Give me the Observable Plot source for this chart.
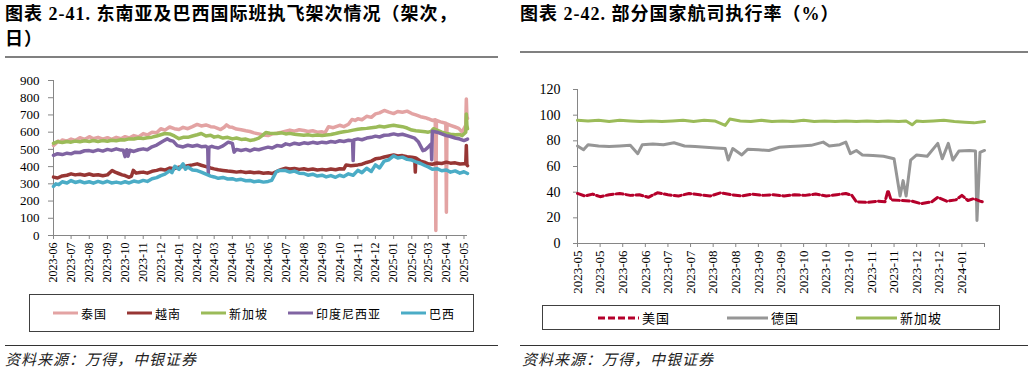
<!DOCTYPE html>
<html><head><meta charset="utf-8">
<script src="https://cdn.jsdelivr.net/npm/d3@7"></script>
<script src="https://cdn.jsdelivr.net/npm/@observablehq/plot@0.6"></script>
<style>
html,body{margin:0;padding:0;background:#fff;}
body{width:1033px;height:372px;position:relative;overflow:hidden;font-family:"Liberation Serif","Noto Sans CJK SC",serif;color:#000;}
.title{position:absolute;top:2px;font-size:18px;font-weight:700;line-height:25px;letter-spacing:1px;white-space:nowrap;}
.rule{position:absolute;background:#808080;}
.src{position:absolute;top:349px;font-size:15px;line-height:20px;font-style:italic;letter-spacing:1px;font-family:"Noto Sans CJK SC",sans-serif;color:#222;}
.chart{position:absolute;}
.legend{position:absolute;border:1px solid #404040;box-sizing:border-box;display:flex;align-items:center;font-family:"Noto Sans CJK SC",sans-serif;font-size:12px;letter-spacing:1px;}
.item{display:flex;align-items:center;}
.item svg{margin-right:3px;}
</style></head>
<body>
<div class="title" style="left:5px">图表 2-41. 东南亚及巴西国际班执飞架次情况（架次，<br>日）</div>
<div class="rule" style="left:5px;top:56px;width:493px;height:2px"></div>
<div class="title" style="left:520px">图表 2-42. 部分国家航司执行率（%）</div>
<div class="rule" style="left:520px;top:51px;width:508px;height:2px"></div>
<div id="c1" class="chart" style="left:0;top:60px"></div>
<div id="c2" class="chart" style="left:515px;top:70px"></div>
<div id="lg1" class="legend" style="left:29px;top:294px;width:445px;height:38px;padding-left:23px;gap:20px"></div>
<div id="lg2" class="legend" style="left:542px;top:305px;width:458px;height:25px;padding-left:55px;gap:57px;font-size:13px"></div>
<div class="rule" style="left:5px;top:345px;width:493px;height:1px;background:#333"></div>
<div class="rule" style="left:520px;top:345px;width:508px;height:1px;background:#333"></div>
<div class="src" style="left:5px">资料来源：万得，中银证券</div>
<div class="src" style="left:522px">资料来源：万得，中银证券</div>
<script>
// ---------- Left chart data (架次/日) ----------
const leftSeries = ["泰国","越南","新加坡","印度尼西亚","巴西"];
const leftColors = ["#E3A3A3","#973634","#9BBB59","#8064A2","#4BACC6"];
const leftYTicks = [0,100,200,300,400,500,600,700,800,900];
const leftTickLabels = ["2023-06","2023-07","2023-08","2023-09","2023-10","2023-11","2023-12","2024-01","2024-02","2024-03","2024-04","2024-05","2024-06","2024-07","2024-08","2024-09","2024-10","2024-11","2024-12","2025-01","2025-02","2025-03","2025-04","2025-05"];
const leftDomain = ["2023-06-01","2025-05-07"];

const thailand = [["2023-06-01",522],["2023-06-05",535],["2023-06-09",548],["2023-06-13",542],["2023-06-16",555],["2023-06-24",548],["2023-07-01",560],["2023-07-08",552],["2023-07-16",568],["2023-07-24",558],["2023-08-01",574],["2023-08-08",562],["2023-08-16",570],["2023-08-24",560],["2023-09-01",568],["2023-09-08",558],["2023-09-16",570],["2023-09-24",562],["2023-10-01",574],["2023-10-08",566],["2023-10-16",580],["2023-10-24",572],["2023-11-01",592],["2023-11-08",584],["2023-11-16",600],["2023-11-24",596],["2023-12-01",620],["2023-12-08",612],["2023-12-16",630],["2023-12-24",620],["2024-01-01",615],["2024-01-08",628],["2024-01-16",620],["2024-01-24",632],["2024-02-01",645],["2024-02-08",636],["2024-02-16",642],["2024-02-24",632],["2024-03-01",630],["2024-03-08",620],["2024-03-12",615],["2024-03-18",628],["2024-03-22",642],["2024-03-27",630],["2024-04-01",628],["2024-04-08",618],["2024-04-16",614],["2024-04-24",608],["2024-05-01",604],["2024-05-08",596],["2024-05-16",590],["2024-05-24",584],["2024-06-01",580],["2024-06-08",590],["2024-06-16",594],["2024-06-24",600],["2024-07-01",606],["2024-07-08",612],["2024-07-16",606],["2024-07-24",614],["2024-08-01",610],["2024-08-08",604],["2024-08-16",608],["2024-08-24",600],["2024-09-01",602],["2024-09-06",596],["2024-09-12",632],["2024-09-20",626],["2024-10-01",640],["2024-10-08",632],["2024-10-16",646],["2024-10-22",674],["2024-10-28",668],["2024-11-01",678],["2024-11-08",672],["2024-11-16",692],["2024-11-24",686],["2024-12-01",706],["2024-12-08",712],["2024-12-16",726],["2024-12-24",716],["2025-01-01",708],["2025-01-08",720],["2025-01-16",716],["2025-01-24",722],["2025-02-01",708],["2025-02-08",700],["2025-02-16",690],["2025-02-24",684],["2025-03-01",678],["2025-03-08",668],["2025-03-13",672],["2025-03-14",29],["2025-03-15",668],["2025-03-22",660],["2025-03-31",652],["2025-04-01",135],["2025-04-02",648],["2025-04-08",640],["2025-04-16",630],["2025-04-22",622],["2025-04-28",600],["2025-05-04",640],["2025-05-05",793],["2025-05-06",690],["2025-05-07",680]];
const vietnam = [["2023-06-01",339],["2023-06-08",334],["2023-06-16",346],["2023-06-24",350],["2023-07-01",358],["2023-07-08",352],["2023-07-16",356],["2023-07-24",350],["2023-08-01",357],["2023-08-08",350],["2023-08-16",353],["2023-08-24",347],["2023-09-01",352],["2023-09-09",377],["2023-09-14",368],["2023-09-20",360],["2023-09-26",352],["2023-10-01",348],["2023-10-08",338],["2023-10-12",345],["2023-10-15",378],["2023-10-20",362],["2023-10-26",366],["2023-11-01",368],["2023-11-08",362],["2023-11-16",373],["2023-11-24",378],["2023-12-01",385],["2023-12-08",380],["2023-12-16",392],["2023-12-24",388],["2024-01-01",397],["2024-01-08",400],["2024-01-16",405],["2024-01-24",410],["2024-02-01",416],["2024-02-08",408],["2024-02-16",400],["2024-02-24",392],["2024-03-01",387],["2024-03-08",382],["2024-03-16",378],["2024-03-24",374],["2024-04-01",372],["2024-04-08",368],["2024-04-16",371],["2024-04-24",366],["2024-05-01",369],["2024-05-08",364],["2024-05-16",367],["2024-05-24",362],["2024-06-01",364],["2024-06-08",360],["2024-06-16",372],["2024-06-24",384],["2024-07-01",391],["2024-07-08",386],["2024-07-16",389],["2024-07-24",384],["2024-08-01",388],["2024-08-08",382],["2024-08-16",386],["2024-08-24",380],["2024-09-01",384],["2024-09-08",380],["2024-09-16",386],["2024-09-24",382],["2024-10-01",388],["2024-10-08",386],["2024-10-12",410],["2024-10-20",405],["2024-11-01",410],["2024-11-08",414],["2024-11-16",424],["2024-11-24",432],["2024-12-01",445],["2024-12-08",448],["2024-12-16",456],["2024-12-24",462],["2025-01-01",468],["2025-01-08",462],["2025-01-16",464],["2025-01-24",458],["2025-02-01",455],["2025-02-06",452],["2025-02-07",368],["2025-02-08",450],["2025-02-16",432],["2025-02-24",424],["2025-03-01",416],["2025-03-08",414],["2025-03-16",421],["2025-03-24",418],["2025-04-01",426],["2025-04-08",420],["2025-04-16",422],["2025-04-24",415],["2025-05-01",417],["2025-05-04",418],["2025-05-05",522],["2025-05-06",410],["2025-05-07",406]];
const singaporeL = [["2023-06-01",535],["2023-06-08",545],["2023-06-16",540],["2023-06-24",546],["2023-07-01",542],["2023-07-08",548],["2023-07-16",544],["2023-07-24",550],["2023-08-01",546],["2023-08-08",552],["2023-08-16",546],["2023-08-24",551],["2023-09-01",547],["2023-09-08",553],["2023-09-16",550],["2023-09-24",556],["2023-10-01",555],["2023-10-08",561],["2023-10-16",560],["2023-10-24",566],["2023-11-01",563],["2023-11-08",568],["2023-11-16",571],["2023-11-24",578],["2023-12-01",585],["2023-12-08",592],["2023-12-16",590],["2023-12-24",578],["2024-01-01",562],["2024-01-08",570],["2024-01-16",570],["2024-01-24",578],["2024-02-01",585],["2024-02-08",592],["2024-02-16",578],["2024-02-24",582],["2024-03-01",571],["2024-03-08",576],["2024-03-16",566],["2024-03-24",570],["2024-04-01",561],["2024-04-08",566],["2024-04-16",558],["2024-04-24",560],["2024-05-01",552],["2024-05-08",556],["2024-05-16",565],["2024-05-22",580],["2024-05-28",598],["2024-06-04",594],["2024-06-16",592],["2024-06-24",596],["2024-07-01",590],["2024-07-08",593],["2024-07-16",588],["2024-07-24",585],["2024-08-01",582],["2024-08-08",585],["2024-08-16",580],["2024-08-24",583],["2024-09-01",580],["2024-09-08",584],["2024-09-16",586],["2024-09-24",592],["2024-10-01",598],["2024-10-08",602],["2024-10-16",606],["2024-10-24",612],["2024-11-01",617],["2024-11-08",620],["2024-11-16",622],["2024-11-24",626],["2024-12-01",628],["2024-12-08",634],["2024-12-16",630],["2024-12-24",636],["2025-01-01",640],["2025-01-08",636],["2025-01-16",632],["2025-01-24",624],["2025-02-01",612],["2025-02-08",608],["2025-02-16",605],["2025-02-24",602],["2025-03-01",600],["2025-03-06",605],["2025-03-10",620],["2025-03-16",612],["2025-03-24",600],["2025-04-01",592],["2025-04-08",588],["2025-04-16",585],["2025-04-24",586],["2025-04-28",580],["2025-05-04",600],["2025-05-05",706],["2025-05-06",640],["2025-05-07",620]];
const indonesia = [["2023-06-01",465],["2023-06-08",475],["2023-06-16",470],["2023-06-24",478],["2023-07-01",474],["2023-07-08",484],["2023-07-16",482],["2023-07-24",492],["2023-08-01",493],["2023-08-08",488],["2023-08-16",497],["2023-08-24",490],["2023-09-01",500],["2023-09-08",494],["2023-09-16",503],["2023-09-24",496],["2023-09-28",495],["2023-10-01",458],["2023-10-04",498],["2023-10-06",460],["2023-10-09",495],["2023-10-16",488],["2023-10-24",498],["2023-11-01",503],["2023-11-08",498],["2023-11-16",515],["2023-11-24",525],["2023-12-01",540],["2023-12-06",550],["2023-12-12",561],["2023-12-17",552],["2023-12-22",548],["2023-12-29",522],["2024-01-08",514],["2024-01-16",524],["2024-01-24",518],["2024-02-01",524],["2024-02-08",516],["2024-02-16",518],["2024-02-19",510],["2024-02-20",358],["2024-02-21",512],["2024-02-26",518],["2024-03-01",513],["2024-03-08",508],["2024-03-16",520],["2024-03-25",542],["2024-04-01",535],["2024-04-04",484],["2024-04-08",500],["2024-04-16",494],["2024-04-24",500],["2024-05-01",492],["2024-05-08",502],["2024-05-16",498],["2024-05-24",506],["2024-06-01",513],["2024-06-08",508],["2024-06-16",522],["2024-06-24",518],["2024-07-01",532],["2024-07-08",526],["2024-07-16",536],["2024-07-24",530],["2024-08-01",538],["2024-08-08",534],["2024-08-16",541],["2024-08-24",536],["2024-09-01",542],["2024-09-08",538],["2024-09-16",546],["2024-09-24",542],["2024-10-01",550],["2024-10-08",546],["2024-10-16",553],["2024-10-23",550],["2024-10-24",435],["2024-10-25",555],["2024-11-01",561],["2024-11-08",556],["2024-11-16",566],["2024-11-24",570],["2024-12-01",577],["2024-12-08",572],["2024-12-16",582],["2024-12-24",584],["2025-01-01",590],["2025-01-08",584],["2025-01-16",588],["2025-01-24",580],["2025-02-01",571],["2025-02-06",565],["2025-02-12",545],["2025-02-20",493],["2025-02-24",498],["2025-02-28",510],["2025-03-06",532],["2025-03-07",440],["2025-03-08",605],["2025-03-16",600],["2025-03-24",590],["2025-04-01",580],["2025-04-08",575],["2025-04-16",566],["2025-04-24",560],["2025-05-01",551],["2025-05-07",560]];
const brazil = [["2023-06-01",285],["2023-06-05",300],["2023-06-10",295],["2023-06-16",312],["2023-06-24",305],["2023-07-01",319],["2023-07-08",308],["2023-07-16",315],["2023-07-24",306],["2023-08-01",312],["2023-08-08",304],["2023-08-16",314],["2023-08-24",306],["2023-09-01",315],["2023-09-08",305],["2023-09-16",310],["2023-09-24",304],["2023-10-01",312],["2023-10-08",305],["2023-10-16",316],["2023-10-24",310],["2023-11-01",320],["2023-11-08",314],["2023-11-16",330],["2023-11-24",336],["2023-12-01",348],["2023-12-08",356],["2023-12-16",375],["2023-12-20",365],["2023-12-25",402],["2024-01-01",384],["2024-01-08",416],["2024-01-12",385],["2024-01-16",398],["2024-01-24",380],["2024-02-01",377],["2024-02-08",368],["2024-02-16",356],["2024-02-24",345],["2024-03-01",340],["2024-03-08",332],["2024-03-16",337],["2024-03-24",328],["2024-04-01",330],["2024-04-08",322],["2024-04-16",326],["2024-04-24",318],["2024-05-01",320],["2024-05-08",312],["2024-05-16",316],["2024-05-24",310],["2024-06-01",314],["2024-06-07",320],["2024-06-15",370],["2024-06-20",378],["2024-07-01",377],["2024-07-08",368],["2024-07-16",374],["2024-07-24",362],["2024-08-01",360],["2024-08-08",350],["2024-08-16",356],["2024-08-24",345],["2024-09-01",350],["2024-09-08",340],["2024-09-16",348],["2024-09-24",338],["2024-10-01",350],["2024-10-08",342],["2024-10-16",358],["2024-10-24",350],["2024-11-01",378],["2024-11-08",365],["2024-11-16",390],["2024-11-24",372],["2024-12-01",410],["2024-12-08",392],["2024-12-16",432],["2024-12-24",440],["2025-01-01",462],["2025-01-08",450],["2025-01-16",455],["2025-01-24",442],["2025-02-01",438],["2025-02-08",428],["2025-02-16",418],["2025-02-24",405],["2025-03-01",398],["2025-03-08",385],["2025-03-16",388],["2025-03-24",376],["2025-04-01",380],["2025-04-08",368],["2025-04-16",375],["2025-04-24",362],["2025-05-01",370],["2025-05-07",360]];

// ---------- Right chart data (%) ----------
const rightSeries = ["美国","德国","新加坡"];
const rightColors = ["#B5002B","#969696","#9BBB59"];
const rightYTicks = [0,20,40,60,80,100,120];
const rightTickDates = ["2023-05-04","2023-05-19","2023-06-03","2023-06-18","2023-07-03","2023-07-18","2023-08-02","2023-08-17","2023-09-01","2023-09-16","2023-10-01","2023-10-16","2023-10-31","2023-11-15","2023-11-30","2023-12-15","2023-12-30","2024-01-14","2024-01-29"];
const rightTickLabels = ["2023-05","2023-05","2023-06","2023-06","2023-07","2023-07","2023-08","2023-08","2023-09","2023-09","2023-10","2023-10","2023-10","2023-11","2023-11","2023-12","2023-12","2024-01",""];
const rightDomain = ["2023-05-04","2024-01-29"];

const usa = [["2023-05-04",39],["2023-05-09",37],["2023-05-14",38.5],["2023-05-19",36.5],["2023-05-25",38],["2023-06-01",39],["2023-06-08",37.5],["2023-06-14",38],["2023-06-20",36],["2023-06-26",39.5],["2023-07-03",38],["2023-07-10",37],["2023-07-17",39],["2023-07-24",38],["2023-07-31",37],["2023-08-07",39.5],["2023-08-14",38],["2023-08-21",37],["2023-08-28",38.5],["2023-09-04",37.5],["2023-09-11",38],["2023-09-18",37],["2023-09-25",38],["2023-10-02",37.5],["2023-10-09",38.5],["2023-10-16",37],["2023-10-23",38],["2023-10-29",39],["2023-11-02",37.5],["2023-11-05",32.5],["2023-11-12",32],["2023-11-19",33],["2023-11-24",32.5],["2023-11-26",41.5],["2023-11-28",34],["2023-12-05",33.5],["2023-12-12",33],["2023-12-18",31],["2023-12-25",32.5],["2023-12-29",36],["2024-01-04",33],["2024-01-10",34],["2024-01-14",37.5],["2024-01-18",33.5],["2024-01-22",35],["2024-01-26",33],["2024-01-29",32]];
const germany = [["2023-05-04",76],["2023-05-08",73],["2023-05-11",77],["2023-05-18",76],["2023-05-25",75.5],["2023-06-01",76],["2023-06-08",76.5],["2023-06-13",70],["2023-06-16",77],["2023-06-23",77.5],["2023-06-30",77],["2023-07-07",78.5],["2023-07-14",76],["2023-07-21",75.5],["2023-07-28",75],["2023-08-04",74.5],["2023-08-10",74],["2023-08-12",65],["2023-08-15",74],["2023-08-21",69],["2023-08-25",73.5],["2023-09-01",73],["2023-09-08",72.5],["2023-09-15",75],["2023-09-22",75.5],["2023-09-29",76],["2023-10-06",76.5],["2023-10-14",79],["2023-10-18",76],["2023-10-25",77],["2023-10-29",79],["2023-11-01",70],["2023-11-05",72.5],["2023-11-09",69],["2023-11-16",68.5],["2023-11-23",68],["2023-11-30",66],["2023-12-04",37],["2023-12-06",49],["2023-12-08",37],["2023-12-11",65],["2023-12-15",69],["2023-12-22",68],["2023-12-29",78],["2024-01-01",66],["2024-01-05",78],["2024-01-08",65],["2024-01-12",72],["2024-01-19",72.5],["2024-01-23",72],["2024-01-24",18],["2024-01-26",71],["2024-01-29",72.5]];
const singaporeR = [["2023-05-04",96],["2023-05-11",95.5],["2023-05-18",96],["2023-05-25",95],["2023-06-01",96],["2023-06-08",95.5],["2023-06-15",95],["2023-06-22",95.5],["2023-06-29",95],["2023-07-06",95.5],["2023-07-13",96],["2023-07-20",95],["2023-07-27",96],["2023-08-03",95.5],["2023-08-10",92],["2023-08-13",97],["2023-08-20",95.5],["2023-08-27",95],["2023-09-03",96],["2023-09-10",95],["2023-09-17",95.5],["2023-09-24",95],["2023-10-01",96],["2023-10-08",95],["2023-10-15",95.5],["2023-10-22",95],["2023-10-29",95.5],["2023-11-05",95],["2023-11-12",95.5],["2023-11-19",95],["2023-11-26",95.5],["2023-12-03",95],["2023-12-08",95.5],["2023-12-12",92.5],["2023-12-15",95.5],["2023-12-19",95],["2023-12-26",95.5],["2024-01-02",96],["2024-01-09",95],["2024-01-16",94.5],["2024-01-22",94],["2024-01-29",95]];

// ---------- build ----------
const parse = d3.utcParse("%Y-%m-%d");
const parseM = d3.utcParse("%Y-%m");
function rows(arr, name){ return arr.map(([d,v]) => ({date: parse(d), value: v, series: name})); }

const leftData = [thailand, vietnam, singaporeL, indonesia, brazil].flatMap((a,i) => rows(a, leftSeries[i]));
const rightData = [usa, germany, singaporeR].flatMap((a,i) => rows(a, rightSeries[i]));

const leftTicks = leftTickLabels.map(parseM);
const lD = leftDomain.map(parse);
const chart1 = Plot.plot({
  width: 510, height: 230,
  marginLeft: 53, marginRight: 43, marginTop: 20, marginBottom: 55,
  style: {fontFamily: "'Liberation Serif', serif", fontSize: "12px", color: "#000", background: "transparent", overflow: "visible"},
  x: {type: "utc", domain: lD},
  y: {domain: [0, 900]},
  color: {domain: leftSeries, range: leftColors},
  marks: [
    Plot.ruleX([lD[0]], {stroke: "#868686"}),
    Plot.ruleY([0], {stroke: "#868686"}),
    Plot.axisY({ticks: leftYTicks, tickSize: 5, tickPadding: 9, fontSize: 13, stroke: "#868686", label: null}),
    Plot.axisX({ticks: leftTicks, tickFormat: d3.utcFormat("%Y-%m"), tickRotate: -90, tickSize: 4, tickPadding: 3, fontSize: 12, stroke: "#868686", label: null}),
    Plot.line(leftData, {x: "date", y: "value", z: "series", stroke: "series", strokeWidth: 3.5, curve: "linear"})
  ]
});
document.getElementById("c1").appendChild(chart1);

const rTicks = rightTickDates.map(parse);
const rD = rightDomain.map(parse);
const rLabel = new Map(rightTickDates.map((d,i) => [+parse(d), rightTickLabels[i]]));
const chart2 = Plot.plot({
  width: 518, height: 230,
  marginLeft: 62, marginRight: 49, marginTop: 19, marginBottom: 57,
  style: {fontFamily: "'Liberation Serif', serif", fontSize: "13px", color: "#000", background: "transparent", overflow: "visible"},
  x: {type: "utc", domain: rD},
  y: {domain: [0, 120]},
  color: {domain: rightSeries, range: rightColors},
  marks: [
    Plot.ruleX([rD[0]], {stroke: "#868686"}),
    Plot.ruleY([0], {stroke: "#868686"}),
    Plot.axisY({ticks: rightYTicks, tickSize: 4, tickPadding: 13, fontSize: 14, stroke: "#868686", label: null}),
    Plot.axisX({ticks: rTicks, tickFormat: d => rLabel.get(+d), tickRotate: -90, tickSize: 4, tickPadding: 3, fontSize: 13, stroke: "#868686", label: null}),
    Plot.line(rightData.filter(d => d.series !== "美国"), {x: "date", y: "value", z: "series", stroke: "series", strokeWidth: 3}),
    Plot.line(rightData.filter(d => d.series === "美国"), {x: "date", y: "value", stroke: "series", strokeWidth: 3, strokeDasharray: "7,3"})
  ]
});
document.getElementById("c2").appendChild(chart2);

// legends
function legend(el, names, colors, w, dashIdx){
  names.forEach((n,i) => {
    const it = document.createElement("div"); it.className = "item";
    const dash = i === dashIdx ? ' stroke-dasharray="7,3"' : '';
    it.innerHTML = `<svg width="${w}" height="6"><line x1="0" x2="${w}" y1="3" y2="3" stroke="${colors[i]}" stroke-width="3"${dash}/></svg><span>${n}</span>`;
    el.appendChild(it);
  });
}
legend(document.getElementById("lg1"), leftSeries, leftColors, 25, -1);
legend(document.getElementById("lg2"), rightSeries, rightColors, 41, 0);
</script>
</body></html>
